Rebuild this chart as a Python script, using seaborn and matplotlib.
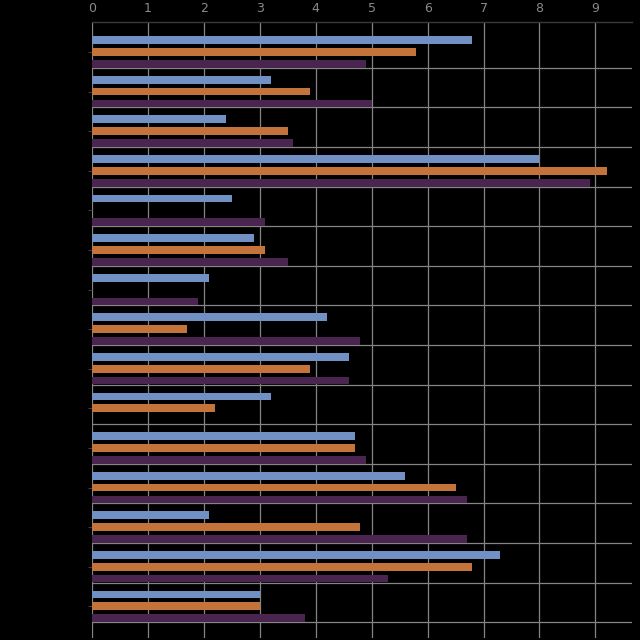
import matplotlib
matplotlib.use("Agg")
import matplotlib.pyplot as plt
import numpy as np
import pandas as pd
import seaborn as sns

categories = [f"C{i}" for i in range(1, 16)]
series_names = ["Series A", "Series B", "Series C"]
series_a = [6.8, 3.2, 2.4, 8.0, 2.5, 2.9, 2.1, 4.2, 4.6, 3.2, 4.7, 5.6, 2.1, 7.3, 3.0]
series_b = [5.8, 3.9, 3.5, 9.2, np.nan, 3.1, np.nan, 1.7, 3.9, 2.2, 4.7, 6.5, 4.8, 6.8, 3.0]
series_c = [4.9, 5.0, 3.6, 8.9, 3.1, 3.5, 1.9, 4.8, 4.6, np.nan, 4.9, 6.7, 6.7, 5.3, 3.8]
x_ticks = list(range(10))
colors = ["#7191c4", "#c4733b", "#4a2550"]

rows = []
for name, vals in zip(series_names, [series_a, series_b, series_c]):
    for c, v in zip(categories, vals):
        rows.append({"category": c, "series": name, "value": v})
df = pd.DataFrame(rows)

sns.set_style("dark")
fig = plt.figure(figsize=(6.4, 6.4), dpi=100, facecolor="black")
ax = fig.add_axes([92 / 640, 1 - 638 / 640, (632 - 92) / 640, (638 - 21.7) / 640])
ax.set_facecolor("black")

sns.barplot(data=df, y="category", x="value", hue="series", hue_order=series_names,
            order=categories, palette=colors, width=0.9, gap=0.35, orient="h",
            legend=False, saturation=1, linewidth=0, edgecolor="none", ax=ax)

ax.set_xlim(0, 9.655)
ax.set_ylim(14.8, -0.765)
ax.set_xlabel("")
ax.set_ylabel("")

ax.xaxis.tick_top()
ax.set_xticks(x_ticks)
ax.set_xticklabels([str(t) for t in x_ticks])
ax.tick_params(axis="x", which="both", length=0, pad=5, labelsize=9, labelcolor="#8a8a8a")
ax.tick_params(axis="y", which="major", length=3, width=0.8, color="#3c3c3c",
               labelcolor="black", labelsize=8, left=True)
ax.tick_params(axis="y", which="minor", length=0)

ax.set_yticks(np.arange(len(categories)) + 0.4, minor=True)
ax.set_axisbelow(True)
ax.xaxis.grid(True, which="major", color="#858585", lw=0.9)
ax.yaxis.grid(False, which="major")
ax.yaxis.grid(True, which="minor", color="#858585", lw=0.9)

for s in ["left", "right", "bottom"]:
    ax.spines[s].set_visible(False)
ax.spines["top"].set_visible(True)
ax.spines["top"].set_color("#3a3a3a")
ax.spines["top"].set_linewidth(1.0)

fig.savefig("out.png", dpi=100, facecolor="black")
